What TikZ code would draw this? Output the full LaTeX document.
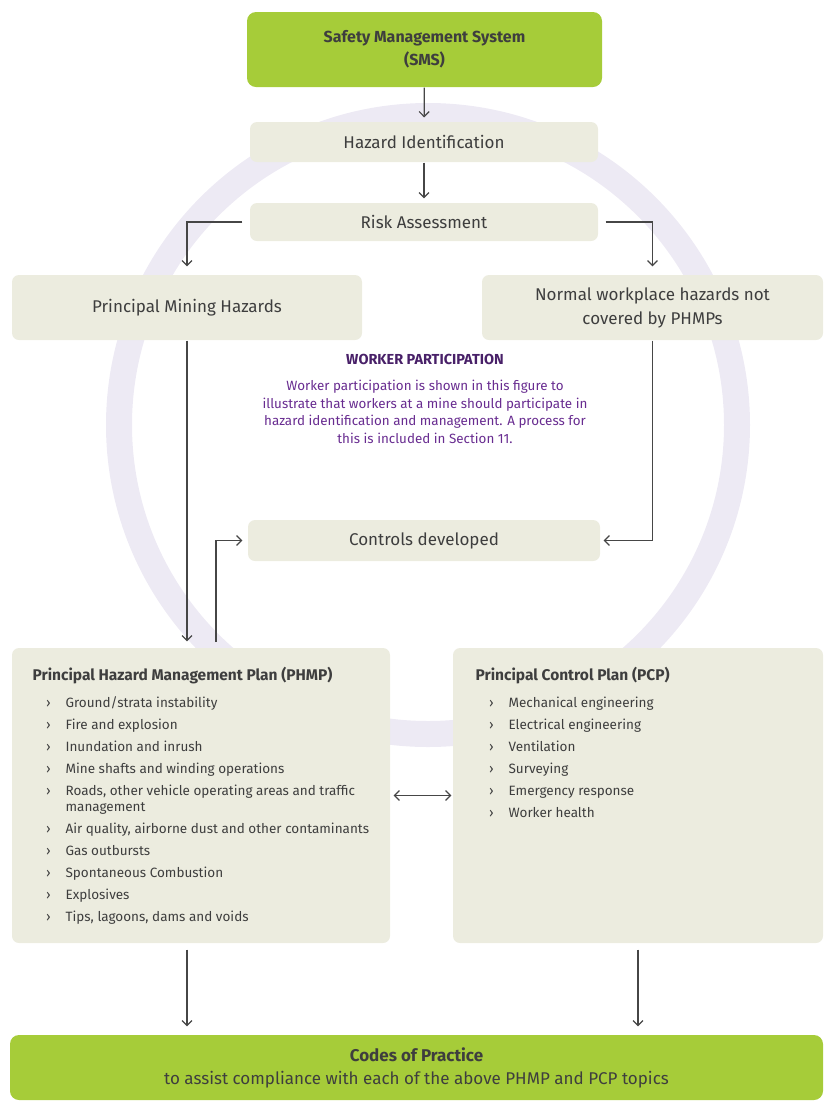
\documentclass[tikz,border=0pt]{standalone}
\usepackage{fontspec}
\setmainfont{Fira Sans}
\usetikzlibrary{arrows.meta}

\definecolor{smsgreen}{RGB}{166,204,57}
\definecolor{sand}{RGB}{236,236,223}
\definecolor{ringlav}{RGB}{237,234,244}
\definecolor{wptitle}{RGB}{72,32,104}
\definecolor{wpbody}{RGB}{104,44,144}
\definecolor{txtgrey}{RGB}{62,62,62}
\definecolor{arrgrey}{RGB}{70,70,70}

\newcommand{\labelfont}{\fontsize{17}{24}\selectfont}
\newcommand{\planfont}{\bfseries\fontsize{15.5}{19}\selectfont}
\newcommand{\itemfont}{\fontsize{13.5}{16}\selectfont}
\newenvironment{hazlist}{\begin{list}{›}{\setlength{\leftmargin}{33pt}%
  \setlength{\labelwidth}{10pt}\setlength{\labelsep}{15pt}%
  \setlength{\itemsep}{6pt}\setlength{\parsep}{0pt}%
  \setlength{\topsep}{0pt}\setlength{\partopsep}{0pt}}}{\end{list}}

\begin{document}
\begin{tikzpicture}[x=1pt, y=-1pt, line width=1.2pt,
    >={Straight Barb[length=5pt,width=10pt]},
    greenbox/.style={fill=smsgreen, rounded corners=9pt, text=txtgrey, align=center},
    sandbox/.style={fill=sand, rounded corners=7pt, text=txtgrey, font=\labelfont, align=center},
    flow/.style={draw=arrgrey, ->}]
\useasboundingbox (0,0) rectangle (825,1104);

% worker participation ring behind everything
\draw[ringlav, line width=26pt] (428,425) circle[radius=309];

\node[greenbox, minimum width=355pt, minimum height=75pt,
      font=\bfseries\fontsize{16}{23}\selectfont] (sms) at (424.5,49.5) {Safety Management System\\(SMS)};
\node[sandbox, minimum width=348pt, minimum height=40pt] (hazid) at (424,142) {Hazard Identification};
\node[sandbox, minimum width=348pt, minimum height=38pt] (risk) at (424,222) {Risk Assessment};
\node[sandbox, minimum width=350pt, minimum height=65pt] (pmh) at (187,307.5) {Principal Mining Hazards};
\node[sandbox, minimum width=341pt, minimum height=65pt] (normal) at (652.5,307.5) {Normal workplace hazards not\\covered by PHMPs};
\node[sandbox, minimum width=352pt, minimum height=41pt] (ctrl) at (424,540.5) {Controls developed};

\node[text=wptitle, font=\bfseries\fontsize{14.5}{17}\selectfont] (wphead) at (425,359) {WORKER PARTICIPATION};
\node[text=wpbody, align=center, font=\fontsize{13.4}{17.5}\selectfont] (wptext) at (425,412)
  {Worker participation is shown in this figure to\\
   illustrate that workers at a mine should participate in\\
   hazard identification and management. A process for\\
   this is included in Section 11.};

% plans
\node[sandbox, minimum width=378pt, minimum height=295pt] (phmp) at (201,795.5) {};
\node[sandbox, minimum width=370pt, minimum height=295pt] (pcp) at (638,795.5) {};

\node[anchor=base west, inner sep=0pt, text=txtgrey] (phmplist) at (32,680) {%
  \begin{minipage}[t]{345pt}\raggedright
  {\planfont Principal Hazard Management Plan (PHMP)}\par\vspace{11pt}
  \itemfont
  \begin{hazlist}
  \item Ground/strata instability
  \item Fire and explosion
  \item Inundation and inrush
  \item Mine shafts and winding operations
  \item Roads, other vehicle operating areas and traffic\newline management
  \item Air quality, airborne dust and other contaminants
  \item Gas outbursts
  \item Spontaneous Combustion
  \item Explosives
  \item Tips, lagoons, dams and voids
  \end{hazlist}
  \end{minipage}};

\node[anchor=base west, inner sep=0pt, text=txtgrey] (pcplist) at (475,680) {%
  \begin{minipage}[t]{330pt}\raggedright
  {\planfont Principal Control Plan (PCP)}\par\vspace{11pt}
  \itemfont
  \begin{hazlist}
  \item Mechanical engineering
  \item Electrical engineering
  \item Ventilation
  \item Surveying
  \item Emergency response
  \item Worker health
  \end{hazlist}
  \end{minipage}};

\node[greenbox, minimum width=813pt, minimum height=65pt, font=\fontsize{17}{23}\selectfont] (codes) at (416.5,1067.5)
  {\textbf{Codes of Practice}\\to assist compliance with each of the above PHMP and PCP topics};

% connectors
\draw[flow, shorten >=4pt] (sms) -- (hazid);
\draw[flow, shorten >=4pt] (hazid) -- (risk);
\draw[flow, shorten <=7pt, shorten >=8pt] (risk.west) -| (pmh.north);
\draw[flow, shorten <=7pt, shorten >=8pt] (risk.east) -| (normal.north);
\draw[flow, shorten >=6pt] (pmh) -- (pmh |- phmp.north);
\coordinate (loopstart) at (216,642);
\draw[flow, shorten >=5pt] (loopstart) |- (ctrl.west);
\draw[flow, shorten >=3pt] (normal) |- (ctrl.east);
\draw[flow, <->, shorten <=3pt, shorten >=1pt] (phmp.east) -- (pcp.west);
\draw[flow, shorten <=6pt, shorten >=8pt] (phmp.south -| pmh.south) -- (codes.north -| pmh.south);
\draw[flow, shorten <=6pt, shorten >=8pt] (pcp.south) -- (pcp.south |- codes.north);
\end{tikzpicture}
\end{document}
